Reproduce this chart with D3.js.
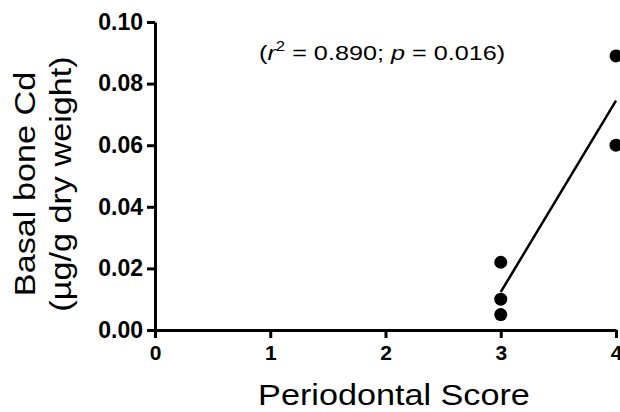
<!DOCTYPE html>
<html>
<head>
<meta charset="utf-8">
<script src="https://cdn.jsdelivr.net/npm/d3@7"></script>
<style>
  body { margin: 0; background: #fff; }
  svg { display: block; font-family: 'Liberation Sans', Arial, sans-serif; }
</style>
</head>
<body>
<div id="chart"></div>
<script>
/// data
let scores = [3, 3, 3, 4, 4];
let cadmium = [0.022, 0.010, 0.005, 0.089, 0.060];
let xTicks = [0, 1, 2, 3, 4];
let yTicks = [0.00, 0.02, 0.04, 0.06, 0.08, 0.10];

let width = 620;
let height = 412;

let svg = d3.select('#chart').append('svg')
            .attr('width', width).attr('height', height);

let x = d3.scaleLinear().domain([0, 4]).range([155, 616]);
let y = d3.scaleLinear().domain([0, 0.1]).range([330, 22]);

/// axes
let xAxis = svg.append('g').attr('transform', 'translate(0,' + y(0) + ')')
               .call(d3.axisBottom(x).tickValues(xTicks).tickFormat(d3.format('d'))
                       .tickSizeInner(8).tickSizeOuter(0).tickPadding(7));

let yAxis = svg.append('g').attr('transform', 'translate(' + x(0) + ',0)')
               .call(d3.axisLeft(y).tickValues(yTicks).tickFormat(d3.format('.2f'))
                       .tickSizeInner(8).tickSizeOuter(0).tickPadding(4));

svg.selectAll('.domain, .tick line')
   .attr('stroke', '#000').attr('stroke-width', 3);

svg.selectAll('.tick text')
   .attr('fill', '#000')
   .style('font-weight', 'bold')
   .style('font-family', "'Liberation Sans', Arial, sans-serif");

yAxis.selectAll('.tick text').style('font-size', '23px');
xAxis.selectAll('.tick text').style('font-size', '21px');

/// least squares fit for the line
let mx = d3.mean(scores);
let my = d3.mean(cadmium);
let sxy = d3.sum(scores, function(d, i) { return (d - mx) * (cadmium[i] - my); });
let sxx = d3.sum(scores, function(d) { return (d - mx) * (d - mx); });
let slope = sxy / sxx;
let intercept = my - slope * mx;
let xExtent = d3.extent(scores);

svg.append('line')
   .attr('x1', x(xExtent[0])).attr('y1', y(intercept + slope * xExtent[0]))
   .attr('x2', x(xExtent[1])).attr('y2', y(intercept + slope * xExtent[1]))
   .attr('stroke', '#000').attr('stroke-width', 2.5);

/// points
svg.selectAll('.dot')
   .data(scores)
   .enter().append('circle')
   .attr('class', 'dot')
   .attr('cx', function(d) { return x(d); })
   .attr('cy', function(d, i) { return y(cadmium[i]); })
   .attr('r', 6.5)
   .attr('fill', '#000');

/// annotation (the original type is a bit wider than Arial, so stretch it)
let note = svg.append('text')
              .attr('transform', 'translate(259,60) scale(1.2,1)')
              .style('font-size', '21px');
note.append('tspan').text('(');
note.append('tspan').style('font-style', 'italic').text('r');
note.append('tspan').attr('dy', -9).style('font-size', '14px').text('2');
note.append('tspan').attr('dy', 9).text(' = 0.890; ');
note.append('tspan').style('font-style', 'italic').text('p');
note.append('tspan').text(' = 0.016)');

/// axis titles
svg.append('text')
   .attr('transform', 'translate(394,405) scale(1.14,1)')
   .attr('text-anchor', 'middle')
   .style('font-size', '30px')
   .text('Periodontal Score');

let yTitle = svg.append('text')
                .attr('transform', 'translate(35,184) rotate(-90) scale(1.14,1)')
                .attr('text-anchor', 'middle')
                .style('font-size', '30px');
yTitle.append('tspan').attr('x', 0).attr('y', 0).text('Basal bone Cd');
yTitle.append('tspan').attr('x', 0).attr('y', 36).text('(µg/g dry weight)');
</script>
</body>
</html>
